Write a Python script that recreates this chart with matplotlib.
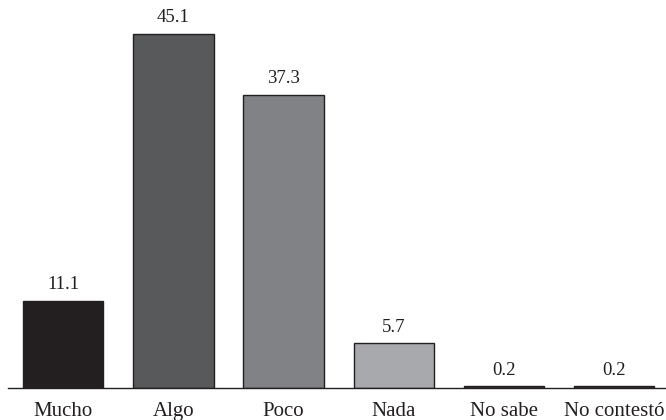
import numpy as np
import matplotlib.pyplot as plt

# data
categories = ["Mucho", "Algo", "Poco", "Nada", "No sabe", "No contestó"]
values = [11.1, 45.1, 37.3, 5.7, 0.2, 0.2]
bar_colors = ["#231f20", "#58595b", "#808285", "#a7a9ac", "#3a3a3c", "#3a3a3c"]

plt.rcParams["font.family"] = ["Liberation Serif", "DejaVu Serif"]

fig = plt.figure(figsize=(6.66, 4.2), dpi=100)
ax = fig.add_axes([8 / 666, 32 / 420, 658 / 666, 388 / 420])

x = np.arange(len(categories))
bars = ax.bar(x, values, width=0.73, color=bar_colors, edgecolor="#231f20", linewidth=1.0)

for xi, v in zip(x, values):
    ax.annotate(f"{v:.1f}", (xi, v), xytext=(0, 5.5), textcoords="offset points",
                ha="center", va="bottom", fontsize=13.5, color="#231f20")

ax.set_xlim(-0.5, 5.47)
ax.set_ylim(0, 49.4)
ax.set_xticks(x)
ax.set_xticklabels(categories, fontsize=15, color="#231f20", va="baseline")
ax.tick_params(axis="x", length=0, pad=20)
ax.set_yticks([])
for side in ["left", "right", "top"]:
    ax.spines[side].set_visible(False)
ax.spines["bottom"].set_color("#231f20")
ax.spines["bottom"].set_linewidth(1.0)

fig.savefig("out.png", dpi=100)
